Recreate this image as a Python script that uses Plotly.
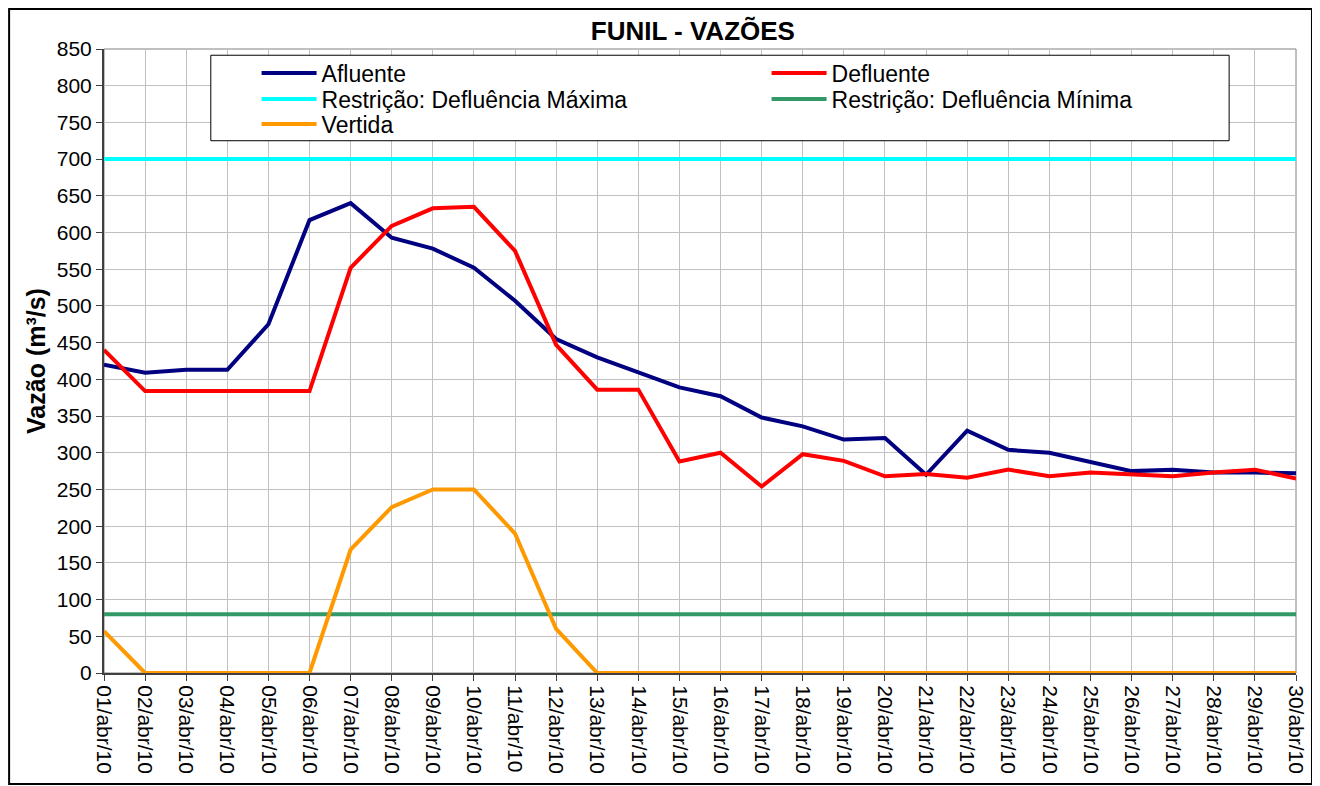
import plotly.graph_objects as go

# dias de abril/2010
datas = [f"{d:02d}/abr/10" for d in range(1, 31)]

afluente = [420, 409, 413, 413, 475, 617, 640, 593, 578, 552,
            507, 455, 430, 410, 389, 377, 348, 336, 318, 320,
            270, 330, 304, 300, 288, 275, 277, 273, 273, 272]
defluente = [440, 384, 384, 384, 384, 384, 552, 609, 633, 635,
             575, 447, 386, 386, 288, 300, 254, 298, 289, 268,
             271, 266, 277, 268, 273, 270, 268, 273, 277, 265]
defl_maxima = [700] * 30
defl_minima = [80] * 30
vertida = [57, 0, 0, 0, 0, 0, 168, 226, 250, 250,
           190, 60, 0, 0, 0, 0, 0, 0, 0, 0,
           0, 0, 0, 0, 0, 0, 0, 0, 0, 0]

x = list(range(len(datas)))

fig = go.Figure()
# (nome, valores, cor, linha da legenda)
series = [
    ("Afluente", afluente, "#000080", "legend"),
    ("Defluente", defluente, "#FF0000", "legend"),
    ("Restrição: Defluência Máxima", defl_maxima, "#00FFFF", "legend2"),
    ("Restrição: Defluência Mínima", defl_minima, "#339966", "legend2"),
    ("Vertida", vertida, "#FF9900", "legend3"),
]
for nome, valores, cor, leg in series:
    fig.add_trace(go.Scatter(x=x, y=valores, name=nome, mode="lines",
                             line=dict(color=cor, width=4), legend=leg))

# cada linha da legenda do Excel vira uma legenda horizontal (espaçamento justo)
def linha_legenda(y):
    return dict(orientation="h", x=0.128, xanchor="left", y=y, yanchor="middle",
                entrywidth=440, entrywidthmode="pixels",
                bgcolor="rgba(0,0,0,0)", borderwidth=0,
                font=dict(size=23), itemwidth=55)

# a página tem 8px de margem no body -> figura 8px menor
fig.update_layout(
    width=1312, height=778,
    margin=dict(l=96, r=22, t=41, b=113),
    paper_bgcolor="white", plot_bgcolor="white",
    font=dict(family="Liberation Sans, Arial", size=21, color="black"),
    title=dict(text="<b>FUNIL - VAZÕES</b>", xref="container", x=0.522, xanchor="center",
               yref="container", y=0.97, yanchor="middle", font=dict(size=26)),
    legend=linha_legenda(0.9615),
    legend2=linha_legenda(0.9199),
    legend3=linha_legenda(0.8798),
    showlegend=True,
)

fig.update_xaxes(
    range=[0, 29], tickmode="array", tickvals=x, ticktext=datas,
    tickangle=90, showgrid=True, gridcolor="#C0C0C0", gridwidth=1,
    showline=True, linecolor="#404040", linewidth=2,
    ticks="outside", ticklen=6, tickcolor="#404040",
    tickfont=dict(size=21), zeroline=False,
)
fig.update_yaxes(
    range=[0, 850], dtick=50, showgrid=True, gridcolor="#C0C0C0", gridwidth=1,
    showline=True, linecolor="#404040", linewidth=2,
    ticks="outside", ticklen=6, tickcolor="#404040",
    tickfont=dict(size=21), zeroline=False,
    title=dict(text="<b>Vazão (m³/s)</b>", font=dict(size=25), standoff=4),
)

# moldura da área do gráfico, caixa da legenda e borda externa
fig.add_shape(type="rect", xref="paper", yref="paper", x0=0, x1=1, y0=0, y1=1,
              line=dict(color="#808080", width=1), layer="below")
fig.add_shape(type="rect", xref="paper", yref="paper",
              x0=0.0896, x1=0.9439, y0=0.853, y1=0.990,
              fillcolor="white", line=dict(color="black", width=1), layer="above")
fig.add_shape(type="rect", xref="paper", yref="paper",
              x0=-0.0796, x1=1.0134, y0=-0.1779, y1=1.0641,
              line=dict(color="black", width=2))

fig.write_html("out.html")
